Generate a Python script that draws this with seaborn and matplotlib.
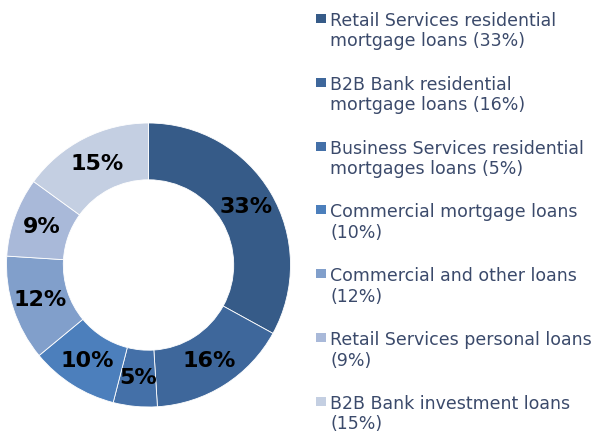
import matplotlib
matplotlib.use("Agg")
import matplotlib.pyplot as plt
import seaborn as sns
from matplotlib.patches import Rectangle

sns.set_theme(style="white")
plt.rcParams["font.family"] = ["DejaVu Sans"]

# Loan portfolio mix (percent)
shares = [33, 16, 5, 10, 12, 9, 15]
labels = [
    "Retail Services residential\nmortgage loans (33%)",
    "B2B Bank residential\nmortgage loans (16%)",
    "Business Services residential\nmortgages loans (5%)",
    "Commercial mortgage loans\n(10%)",
    "Commercial and other loans\n(12%)",
    "Retail Services personal loans\n(9%)",
    "B2B Bank investment loans\n(15%)",
]
colors = ["#365b88", "#3e679b", "#4470a8", "#4c7fbc", "#819fcb", "#a9b9d9", "#c4cfe2"]

W, H = 592, 432
fig = plt.figure(figsize=(W / 100, H / 100), dpi=100)

# donut: centre (148.5, 265) px, outer radius 142 px
ax = fig.add_axes([6.5 / W, (H - 265 - 142) / H, 284 / W, 284 / H])
wedges, texts = ax.pie(
    shares,
    colors=colors,
    startangle=90,
    counterclock=False,
    radius=1.0,
    labels=[f"{s}%" for s in shares],
    labeldistance=0.8,
    wedgeprops=dict(width=0.4, edgecolor="white", linewidth=0.6),
    textprops=dict(fontsize=16, fontweight="bold", color="black",
                   ha="center", va="center"),
)
ax.set_xlim(-1, 1)
ax.set_ylim(-1, 1)
ax.set_aspect("equal")
ax.axis("off")

# legend drawn by hand so the swatch sits on the first line
text_color = "#3b4a6b"
for i, (lab, col) in enumerate(zip(labels, colors)):
    base = 26 + 63.8 * i
    fig.patches.append(Rectangle((316 / W, 1 - (base - 3) / H), 10 / W, 9 / H,
                                 transform=fig.transFigure, facecolor=col,
                                 edgecolor="none"))
    for j, line in enumerate(lab.split("\n")):
        fig.text(330 / W, 1 - (base + 20.5 * j) / H, line, fontsize=12.5,
                 color=text_color, ha="left", va="baseline")

fig.savefig("out.png", dpi=100)
